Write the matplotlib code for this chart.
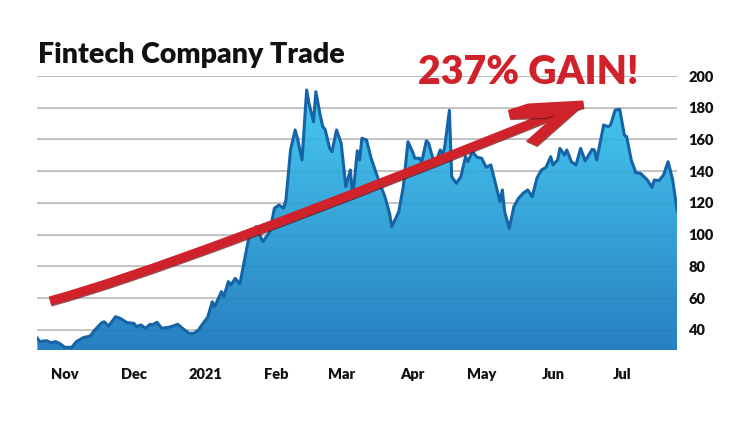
import numpy as np
import pandas as pd
import matplotlib
matplotlib.use("Agg")
import matplotlib.pyplot as plt
import matplotlib.dates as mdates
from matplotlib.patches import Polygon, PathPatch
from matplotlib.path import Path
from matplotlib.colors import LinearSegmentedColormap
import matplotlib.patheffects as pe

# ---------------- data ----------------
start_date = "2020-11-01"
day_offsets = [-12, -11, -8, -6, -4, -2, 0, 3, 5, 8,
               11, 13, 16, 17, 19, 22, 24, 27, 30, 31,
               33, 35, 37, 38, 40, 42, 45, 47, 49, 51,
               54, 56, 58, 60, 62, 64, 65, 68, 69, 71,
               72, 74, 76, 78, 80, 83, 86, 88, 89, 91,
               93, 95, 96, 98, 100, 101, 103, 105, 106, 108,
               109, 111, 112, 113, 115, 116, 118, 120, 122, 124,
               125, 127, 128, 129, 131, 133, 135, 137, 139, 141,
               142, 144, 145, 147, 149, 151, 152, 154, 155, 157,
               158, 160, 161, 163, 164, 165, 167, 168, 170, 172,
               174, 175, 177, 179, 181, 183, 185, 187, 189, 190,
               191, 193, 195, 197, 199, 201, 203, 205, 207, 209,
               211, 212, 214, 215, 217, 218, 220, 222, 224, 226,
               229, 230, 231, 234, 236, 237, 239, 241, 243, 244,
               246, 248, 250, 253, 255, 256, 258, 260, 262, 264,
               266]
prices = [34.8, 32.7, 33.3, 32.0, 32.7, 31.2, 29.1, 29.1, 32.7, 35.2,
          36.2, 40.0, 44.6, 45.2, 42.5, 48.4, 47.3, 44.6, 44.2, 42.1,
          43.2, 41.1, 43.6, 43.2, 44.9, 41.1, 41.7, 42.5, 43.6, 41.1,
          37.9, 37.9, 40.0, 44.2, 48.0, 57.8, 54.7, 64.2, 61.0, 70.5,
          68.3, 72.5, 69.0, 84.1, 98.8, 105.1, 95.6, 99.8, 101.9, 116.7,
          118.7, 116.7, 121.9, 153.4, 166.0, 160.8, 147.1, 191.2, 182.8, 171.2,
          190.1, 174.4, 168.1, 166.4, 154.4, 152.3, 166.0, 157.6, 130.3, 140.8,
          122.9, 152.9, 147.1, 160.8, 159.7, 148.2, 139.7, 131.3, 124.0, 113.5,
          105.1, 111.4, 114.5, 130.3, 158.6, 152.3, 148.2, 148.2, 146.0, 159.3,
          157.6, 147.1, 145.0, 153.4, 150.2, 155.5, 178.4, 136.6, 132.4, 136.6,
          149.2, 146.0, 152.3, 148.8, 148.2, 142.5, 144.0, 132.4, 120.8, 128.2,
          114.5, 104.0, 117.7, 122.9, 126.1, 128.2, 124.0, 135.6, 140.8, 142.5,
          149.2, 144.0, 147.1, 154.4, 150.2, 153.4, 146.0, 144.0, 154.4, 146.5,
          153.8, 153.4, 147.1, 169.1, 168.1, 169.1, 178.6, 179.0, 162.8, 161.8,
          147.1, 139.1, 138.7, 134.5, 129.9, 134.5, 134.1, 137.6, 146.0, 134.5,
          114.5]
month_starts = ["2020-11-01", "2020-12-01", "2021-01-01", "2021-02-01", "2021-03-01",
                "2021-04-01", "2021-05-01", "2021-06-01", "2021-07-01"]
month_labels = ["Nov", "Dec", "2021", "Feb", "Mar", "Apr", "May", "Jun", "Jul"]
y_ticks = [40, 60, 80, 100, 120, 140, 160, 180, 200]
title_text = "Fintech Company Trade"
gain_text = "237% GAIN!"

# ---------------- styling ----------------
plt.rcParams['font.family'] = ['Lato', 'DejaVu Sans']
RED = "#d0222a"
LINE = "#1664a8"
W, H = 750, 421
fig = plt.figure(figsize=(W / 100, H / 100), dpi=100)

ax_l, ax_r, ax_t, ax_b = 37.3, 677.3, 76, 350
ax = fig.add_axes([ax_l / W, 1 - ax_b / H, (ax_r - ax_l) / W, (ax_b - ax_t) / H])

dates = pd.Timestamp(start_date) + pd.to_timedelta(day_offsets, unit="D")
x = mdates.date2num(dates.to_pydatetime())
y = np.array(prices)
ymin, ymax = 27.4, 200

# grid under
for t in y_ticks:
    ax.axhline(t, color="#c6c6c6", lw=1.3, zorder=0)

# gradient fill
verts = [(x[0], ymin)] + list(zip(x, y)) + [(x[-1], ymin)]
poly = Polygon(verts, closed=True, facecolor="none", edgecolor="none")
ax.add_patch(poly)
cmap = LinearSegmentedColormap.from_list("g", ["#2880c1", "#48cdf2"])
grad = np.linspace(0, 1, 256).reshape(-1, 1)
im = ax.imshow(grad, extent=[x[0], x[-1], ymin, ymax], origin="lower",
               aspect="auto", cmap=cmap, zorder=2, interpolation="bilinear")
im.set_clip_path(poly)
# faint grid over the fill
for t in y_ticks:
    ax.axhline(t, color="#000000", lw=1.0, alpha=0.05, zorder=3)

ax.plot(x, y, color=LINE, lw=2.2, zorder=4, solid_joinstyle="round")

ax.set_xlim(x[0], x[-1])
ax.set_ylim(ymin, ymax)
for s in ax.spines.values():
    s.set_visible(False)
ax.yaxis.tick_right()
ax.set_yticks(y_ticks)
ax.set_yticklabels([str(t) for t in y_ticks], fontsize=10.5, fontweight="heavy")
mx = mdates.date2num(pd.to_datetime(month_starts).to_pydatetime())
ax.set_xticks(mx)
ax.set_xticklabels(month_labels, fontsize=10.5, fontweight="heavy")
ax.tick_params(axis="y", length=0, pad=8, colors="#111111")
ax.tick_params(axis="x", length=0, pad=13, colors="#111111")

# title and annotation text
fig.text(38 / W, 1 - 62.5 / H, title_text, fontsize=20.5, fontweight="heavy",
         color="#111111", ha="left", va="baseline")
fig.text(528.5 / W, 1 - 83.5 / H, gain_text, fontsize=28.3, fontweight="heavy",
         color=RED, ha="center", va="baseline")

# arrow (decoration in pixel coordinates of the figure)
def P(px, py):
    return (px / W, 1 - py / H)

shadow = [pe.SimpleLineShadow(offset=(0.3, -0.8), shadow_color="#5a1010", alpha=0.7),
          pe.Normal()]
shaft = Path([P(50, 301), P(174.6, 267.4), P(572, 107)],
             [Path.MOVETO, Path.CURVE3, Path.CURVE3])
pp = PathPatch(shaft, facecolor="none", edgecolor=RED, lw=6.6,
               capstyle="butt", transform=fig.transFigure, zorder=10)
pp.set_path_effects(shadow)
fig.add_artist(pp)

top_barb = Polygon([P(508, 110), P(528, 103.5), P(583, 100.5), P(584, 108),
                    P(545, 118), P(510, 119)], closed=True,
                   facecolor=RED, edgecolor="none", transform=fig.transFigure, zorder=11)
low_barb = Polygon([P(526, 141), P(537, 146), P(580, 108), P(562, 109)], closed=True,
                   facecolor=RED, edgecolor="none", transform=fig.transFigure, zorder=11)
for b in (top_barb, low_barb):
    b.set_path_effects([pe.SimplePatchShadow(offset=(0.3, -0.8), shadow_rgbFace="#5a1010",
                                             alpha=0.7), pe.Normal()])
    fig.add_artist(b)

fig.savefig("out.png", dpi=100)
